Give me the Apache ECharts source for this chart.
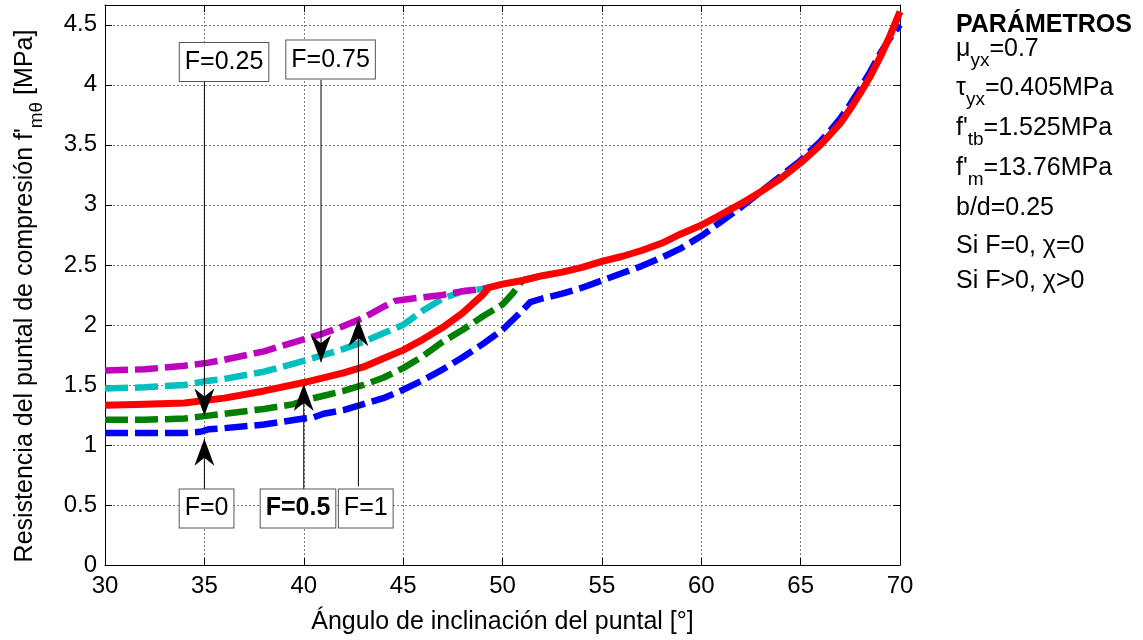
<!DOCTYPE html>
<html><head><meta charset="utf-8">
<script src="https://cdn.jsdelivr.net/npm/echarts@6/dist/echarts.min.js"></script>
<style>html,body{margin:0;padding:0;background:#fff}#c{width:1143px;height:640px}</style>
</head><body><div id="c"></div>
<script>
// ---------------- DATA ----------------
const xTickValues = [30, 35, 40, 45, 50, 55, 60, 65, 70];
const yTickValues = [0, 0.5, 1, 1.5, 2, 2.5, 3, 3.5, 4, 4.5];

// F = 0 (blue, dashed)
const angF0 = [30,32,34,34.8,35.2,36,38,40,40.5,41,42,43,44,45,46,47,48,49,50,51,51.4,52,53,54,55,56,57,58,59,60,61,62,63,64,65,66,66.5,67,67.5,68,68.5,69,69.5,70];
const valF0 = [1.10,1.10,1.10,1.11,1.13,1.14,1.17,1.22,1.23,1.26,1.29,1.34,1.39,1.46,1.54,1.63,1.73,1.84,1.96,2.12,2.19,2.22,2.26,2.31,2.37,2.43,2.49,2.56,2.64,2.74,2.86,2.98,3.11,3.24,3.37,3.53,3.62,3.72,3.84,3.97,4.11,4.26,4.39,4.50];
// F = 0.25 (green, dashed)
const angF025 = [30,32,34,35,36,38,39.5,40,41,42,43,44,45,46,47,48,49,50,50.5,51,52];
const valF025 = [1.21,1.21,1.22,1.24,1.26,1.30,1.34,1.37,1.41,1.45,1.50,1.56,1.64,1.74,1.86,1.96,2.07,2.17,2.26,2.37,2.41];
// F = 0.75 (cyan, dashed)
const angF075 = [30,32,34,35,36,38,40,41,42,43,44,45,46,47,48,49,49.3];
const valF075 = [1.47,1.48,1.50,1.53,1.55,1.61,1.70,1.75,1.80,1.86,1.93,2.00,2.12,2.22,2.28,2.30,2.31];
// F = 1 (magenta, dashed)
const angF1 = [30,32,34,35,36,38,40,41,42,43,44,44.6,45,46,47,48,49,49.3];
const valF1 = [1.62,1.63,1.66,1.68,1.71,1.78,1.88,1.93,1.99,2.06,2.15,2.20,2.21,2.23,2.25,2.28,2.30,2.31];
// F = 0.5 (red, solid)
const angF05 = [30,32,34,35,36,38,40,42,43,44,45,46,47,48,49,49.3,50,51,52,53,54,55,56,57,58,59,60,61,62,63,64,65,66,66.5,67,67.5,68,68.5,69,69.5,70];
const valF05 = [1.33,1.34,1.35,1.37,1.39,1.45,1.52,1.60,1.65,1.72,1.79,1.88,1.98,2.10,2.25,2.31,2.34,2.37,2.41,2.44,2.48,2.53,2.57,2.62,2.68,2.76,2.83,2.92,3.01,3.11,3.22,3.35,3.50,3.59,3.68,3.80,3.93,4.07,4.23,4.41,4.61];

// annotations (data coordinates)
const annotLabels = ['F=0.25', 'F=0.75', 'F=0', 'F=0.5', 'F=1'];
const annotBoxX   = [35.99, 41.35, 35.11, 39.71, 43.12];
const annotBoxY   = [4.19, 4.21, 0.47, 0.47, 0.47];
const arrowX      = [35, 40.87, 35, 40, 42.75];
const arrowFromY  = [4.03, 4.04, 0.63, 0.63, 0.655];
const arrowToY    = [1.245, 1.69, 1.052, 1.508, 2.047];

const xTitle = 'Ángulo de inclinación del puntal [°]';
const yTitleParts = [["Resistencia del puntal de compresión f'", 'n'], ['mθ', 's'], [' [MPa]', 'n']];
const paramLines = [
  [['PARÁMETROS', 'b']],
  [['μ', 'n'], ['yx', 's'], ['=0.7', 'n']],
  [['τ', 'n'], ['yx', 's'], ['=0.405MPa', 'n']],
  [["f'", 'n'], ['tb', 's'], ['=1.525MPa', 'n']],
  [["f'", 'n'], ['m', 's'], ['=13.76MPa', 'n']],
  [['b/d=0.25', 'n']],
  [['Si F=0, χ=0', 'n']],
  [['Si F>0, χ>0', 'n']]
];

// ---------------- RENDER ----------------
const FONT = '"Liberation Sans", Arial, Helvetica, sans-serif';
const MAIN = 25, SUB = 19;
const mctx = document.createElement('canvas').getContext('2d');
function tw(text, size, weight) {
  mctx.font = (weight || 'normal') + ' ' + size + 'px ' + FONT;
  return mctx.measureText(text).width;
}
function segFont(kind) {
  if (kind === 'b') return { size: MAIN, weight: 'bold', dy: 0 };
  if (kind === 's') return { size: SUB, weight: 'normal', dy: 12 };
  return { size: MAIN, weight: 'normal', dy: 0 };
}
function buildTextRun(parts, x0, yMid) {
  const out = [];
  let x = x0;
  parts.forEach(([t, k]) => {
    const f = segFont(k);
    out.push({ type: 'text', x: x, y: yMid + f.dy, silent: true,
      style: { text: t, fontSize: f.size, fontWeight: f.weight, fontFamily: FONT,
               fill: '#000', align: 'left', verticalAlign: 'middle' } });
    x += tw(t, f.size, f.weight);
  });
  return { els: out, width: x - x0 };
}

const pairs = (xs, ys) => xs.map((x, i) => [x, ys[i]]);

const curves = [
  { name: 'F=0',    data: pairs(angF0, valF0),     color: '#0000ff', dashed: true },
  { name: 'F=0.25', data: pairs(angF025, valF025), color: '#008000', dashed: true },
  { name: 'F=0.75', data: pairs(angF075, valF075), color: '#00bfbf', dashed: true },
  { name: 'F=1',    data: pairs(angF1, valF1),     color: '#bf00bf', dashed: true },
  { name: 'F=0.5',  data: pairs(angF05, valF05),   color: '#ff0000', dashed: false }
];

const series = curves.map((c, i) => ({
  type: 'line', name: c.name, data: c.data, showSymbol: false, symbol: 'none',
  smooth: false, z: 2 + i, silent: true,
  lineStyle: { color: c.color, width: c.dashed ? 6.5 : 7, type: c.dashed ? [23, 7] : 'solid', cap: 'butt', join: 'round' }
}));

// annotation lines
arrowX.forEach((ax, i) => {
  series.push({ type: 'line', data: [[ax, arrowFromY[i]], [ax, arrowToY[i]]], symbol: 'none', showSymbol: false,
    z: 10, silent: true, lineStyle: { color: '#000', width: 1, opacity: 1 } });
});
// arrow heads
const UP = 'path://M10,0 L20,27 L10,19 L0,27 Z';
const DOWN = 'path://M0,0 L10,8 L20,0 L10,27 Z';
series.push({
  type: 'scatter', z: 11, silent: true,
  data: arrowX.map((ax, i) => {
    const down = arrowToY[i] < arrowFromY[i];
    return { value: [ax, arrowToY[i]], symbol: down ? DOWN : UP, symbolSize: [20, 27],
             symbolOffset: [0, down ? -13.5 : 13.5] };
  }),
  itemStyle: { color: '#000', opacity: 1 }
});
// annotation boxes
series.push({
  type: 'scatter', z: 12, silent: true, symbolSize: 0,
  itemStyle: { opacity: 1 },
  data: annotLabels.map((t, i) => ({ value: [annotBoxX[i], annotBoxY[i]], name: t,
    label: { fontWeight: t === 'F=0.5' ? 'bold' : 'normal' } })),
  label: { show: true, position: 'inside', formatter: p => p.name, fontSize: MAIN, fontFamily: FONT,
    color: '#000', opacity: 1, backgroundColor: '#fff', borderColor: '#555', borderWidth: 1,
    padding: [5, 5, 4, 5], lineHeight: 29, align: 'center', verticalAlign: 'middle' }
});

// graphics: y title (rotated), params panel
const graphics = [];
{
  const run = buildTextRun(yTitleParts, 0, 0);
  const w = run.width;
  run.els.forEach(e => { e.x -= w / 2; });
  graphics.push({ type: 'group', x: 25, y: 296, rotation: Math.PI / 2, children: run.els });
}
const paramMid = [25, 49, 88, 128, 168, 208, 246, 281];
paramLines.forEach((parts, i) => {
  const run = buildTextRun(parts, 956, paramMid[i]);
  run.els.forEach(e => graphics.push(e));
});

const option = {
  animation: false,
  backgroundColor: '#fff',
  grid: { left: 105, right: 243, top: 5, bottom: 73, containLabel: false },
  xAxis: [
    { type: 'value', min: 30, max: 70, interval: 5, position: 'bottom',
      axisLine: { show: true, onZero: false, lineStyle: { color: '#000', width: 1 } },
      axisTick: { show: true, inside: true, length: 7, lineStyle: { color: '#000' } },
      axisLabel: { show: true, margin: 9, fontSize: 24, fontFamily: FONT, color: '#000',
        formatter: v => (xTickValues.indexOf(v) >= 0 ? String(v) : '') },
      splitLine: { show: true, lineStyle: { color: '#7a7a7a', width: 1, type: [2, 2] } },
      name: xTitle, nameLocation: 'middle', nameGap: 45,
      nameTextStyle: { fontSize: MAIN, fontFamily: FONT, color: '#000' } },
    { type: 'value', min: 30, max: 70, interval: 5, position: 'top',
      axisLine: { show: true, onZero: false, lineStyle: { color: '#000', width: 1 } },
      axisTick: { show: true, inside: true, length: 7, lineStyle: { color: '#000' } },
      axisLabel: { show: false }, splitLine: { show: false } }
  ],
  yAxis: [
    { type: 'value', min: 0, max: 4.665, interval: 0.5, position: 'left',
      axisLine: { show: true, onZero: false, lineStyle: { color: '#000', width: 1 } },
      axisTick: { show: true, inside: true, length: 7, lineStyle: { color: '#000' } },
      axisLabel: { show: true, margin: 8, fontSize: 24, fontFamily: FONT, color: '#000', showMaxLabel: false,
        formatter: v => (yTickValues.some(t => Math.abs(t - v) < 1e-9) ? String(v) : '') },
      splitLine: { show: true, lineStyle: { color: '#7a7a7a', width: 1, type: [2, 2] } } },
    { type: 'value', min: 0, max: 4.665, interval: 0.5, position: 'right',
      axisLine: { show: true, onZero: false, lineStyle: { color: '#000', width: 1 } },
      axisTick: { show: true, inside: true, length: 7, lineStyle: { color: '#000' } },
      axisLabel: { show: false }, splitLine: { show: false } }
  ],
  series: series,
  graphic: graphics
};
const chart = echarts.init(document.getElementById('c'), null, { renderer: 'canvas' });
chart.setOption(option);
</script>
</body></html>
